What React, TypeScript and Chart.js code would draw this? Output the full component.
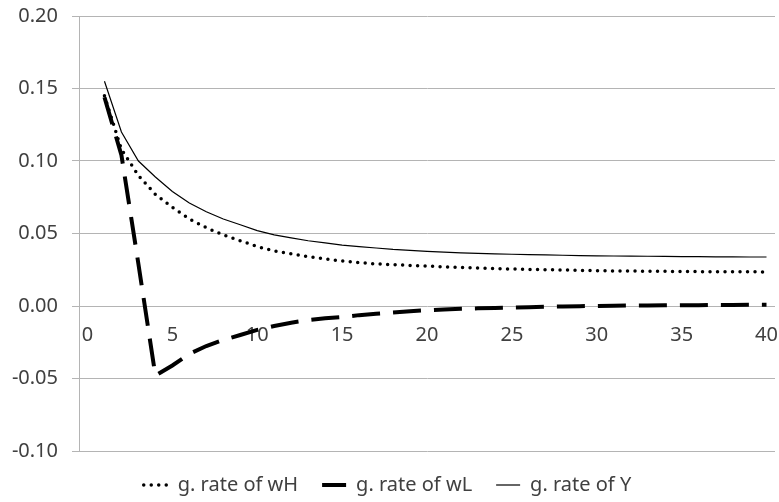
import React, { useEffect, useRef } from "react";
import { Chart, registerables } from "chart.js";

Chart.register(...registerables);

const categories = [
  "0", "1", "2", "3", "4", "5", "6", "7", "8", "9", "10",
  "11", "12", "13", "14", "15", "16", "17", "18", "19", "20",
  "21", "22", "23", "24", "25", "26", "27", "28", "29", "30",
  "31", "32", "33", "34", "35", "36", "37", "38", "39", "40",
];

const shownXTicks = ["0", "5", "10", "15", "20", "25", "30", "35", "40"];

const seriesNames = ["g. rate of wH", "g. rate of wL", "g. rate of Y"];

const wH = [
  null,
  0.145, 0.108, 0.090, 0.077, 0.068, 0.060, 0.054, 0.049, 0.045, 0.041,
  0.038, 0.036, 0.034, 0.0325, 0.031, 0.030, 0.029, 0.0285, 0.028, 0.0275,
  0.027, 0.0266, 0.0262, 0.0258, 0.0255, 0.0252, 0.0250, 0.0248, 0.0246, 0.0244,
  0.0242, 0.0241, 0.0240, 0.0239, 0.0238, 0.0237, 0.0237, 0.0236, 0.0236, 0.0235,
];

const wL = [
  null,
  0.144, 0.104, 0.029, -0.048, -0.041, -0.033, -0.0276, -0.0234, -0.020, -0.0165,
  -0.0138, -0.0115, -0.0097, -0.0085, -0.0076, -0.0063, -0.0053, -0.0045, -0.0036, -0.0029,
  -0.0024, -0.0019, -0.0016, -0.0013, -0.0010, -0.0008, -0.0005, -0.0003, -0.0001, 0.0,
  0.0002, 0.0003, 0.0004, 0.0005, 0.0006, 0.0006, 0.0007, 0.0007, 0.0008, 0.0008,
];

const Y = [
  null,
  0.155, 0.120, 0.100, 0.089, 0.079, 0.071, 0.065, 0.060, 0.056, 0.052,
  0.049, 0.047, 0.045, 0.0435, 0.042, 0.041, 0.040, 0.039, 0.0383, 0.0377,
  0.0372, 0.0367, 0.0363, 0.0360, 0.0357, 0.0354, 0.0352, 0.0350, 0.0348, 0.0346,
  0.0345, 0.0344, 0.0343, 0.0342, 0.0341, 0.0340, 0.0339, 0.0339, 0.0338, 0.0338,
];

const yMin = -0.1;
const yMax = 0.2;
const yStep = 0.05;

const FONT = "'Noto Sans', sans-serif";
const FONT_SIZE = 20;
const TEXT = "#404040";
const GRID = "#b4b4b4";

export default function App() {
  const ref = useRef<HTMLCanvasElement | null>(null);

  useEffect(() => {
    if (!ref.current) return;
    const chart = new Chart(ref.current, {
      type: "line",
      data: {
        labels: categories,
        datasets: [
          {
            label: seriesNames[0],
            data: wH,
            borderColor: "#000",
            backgroundColor: "#000",
            borderWidth: 3.5,
            borderDash: [0, 7.5],
            borderCapStyle: "round",
            pointRadius: 0,
            tension: 0,
            fill: false,
          },
          {
            label: seriesNames[1],
            data: wL,
            borderColor: "#000",
            backgroundColor: "#000",
            borderWidth: 4,
            borderDash: [28, 13],
            borderCapStyle: "butt",
            pointRadius: 0,
            tension: 0,
            fill: false,
          },
          {
            label: seriesNames[2],
            data: Y,
            borderColor: "#000",
            backgroundColor: "#000",
            borderWidth: 1.2,
            pointRadius: 0,
            tension: 0,
            fill: false,
          },
        ],
      },
      options: {
        responsive: false,
        animation: false,
        devicePixelRatio: 1,
        layout: { padding: { left: 0, right: 4, top: 16, bottom: 0 } },
        plugins: {
          tooltip: { enabled: false },
          legend: {
            display: true,
            position: "bottom",
            fullSize: true,
            labels: {
              usePointStyle: true,
              pointStyle: "line",
              pointStyleWidth: 24,
              boxHeight: 8,
              padding: 24,
              color: TEXT,
              font: { family: FONT, size: FONT_SIZE },
              generateLabels: (c: any) => {
                const items = (Chart.defaults as any).plugins.legend.labels.generateLabels(c);
                items.forEach((it: any) => {
                  const ds: any = c.data.datasets[it.datasetIndex];
                  it.lineDash = ds.borderDash || [];
                  it.lineCap = ds.borderCapStyle || "butt";
                  it.lineWidth = ds.borderWidth;
                  it.strokeStyle = ds.borderColor;
                });
                return items;
              },
            },
          },
        },
        scales: {
          x: {
            type: "category",
            offset: true,
            position: { y: 0 },
            afterFit: (s: any) => {
              s.paddingLeft = 0;
              s.paddingRight = 0;
              s.paddingTop = 0;
              s.paddingBottom = 0;
            },
            grid: { display: false, drawTicks: false },
            border: { display: false },
            ticks: {
              autoSkip: false,
              maxRotation: 0,
              minRotation: 0,
              padding: 17,
              color: TEXT,
              font: { family: FONT, size: FONT_SIZE },
              callback: function (this: any, value: any, index: number) {
                const lab = categories[index];
                return shownXTicks.includes(lab) ? lab : "";
              },
            },
          },
          y: {
            min: yMin,
            max: yMax,
            afterFit: (s: any) => {
              s.width = 79;
              s.paddingTop = 0;
              s.paddingBottom = 0;
            },
            grid: {
              color: GRID,
              lineWidth: 1,
              tickLength: 7,
              drawTicks: true,
            },
            border: { display: true, color: GRID, width: 1 },
            ticks: {
              stepSize: yStep,
              padding: 14,
              color: TEXT,
              font: { family: FONT, size: FONT_SIZE },
              callback: (v: any) => Number(v).toFixed(2),
            },
          },
        },
      },
    });
    return () => chart.destroy();
  }, []);

  return (
    <div
      style={{
        position: "absolute",
        left: 0,
        top: 0,
        width: 779,
        height: 502,
        overflow: "hidden",
        background: "#fff",
      }}
    >
      <canvas ref={ref} width={779} height={505} style={{ display: "block" }} />
    </div>
  );
}
